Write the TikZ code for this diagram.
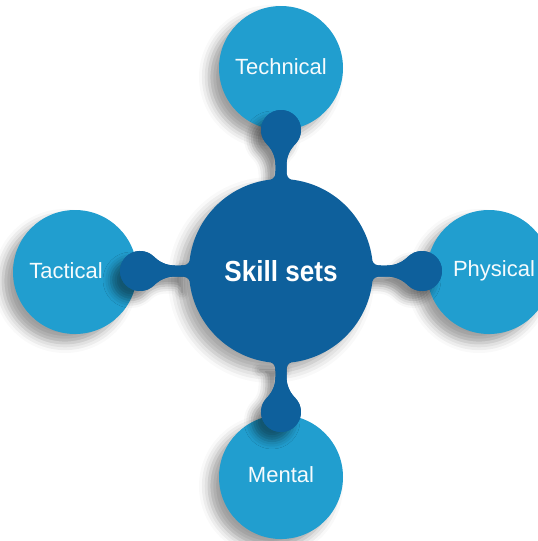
\documentclass[tikz,border=0pt]{standalone}
\usepackage{fontspec}
\setmainfont{Liberation Sans}
\newfontfamily\skillfont{Liberation Sans}[FakeStretch=0.9]
\usetikzlibrary{shadows.blur}
\definecolor{ltblue}{RGB}{33,158,207}
\definecolor{dkblue}{RGB}{14,96,156}
\tikzset{
  outer/.style={circle,fill=ltblue,minimum size=124pt,inner sep=0pt,
    blur shadow={shadow xshift=-10pt,shadow yshift=-9pt,shadow blur radius=10pt,shadow opacity=38}},
  hub/.style={circle,fill=dkblue,minimum size=184pt,inner sep=0pt,
    blur shadow={shadow xshift=-10pt,shadow yshift=-9pt,shadow blur radius=11pt,shadow opacity=35}},
  lbl/.style={text=white!96!ltblue,font=\fontsize{22}{25}\selectfont},
  knobshade/.style={blur shadow={shadow xshift=-9pt,shadow yshift=-9pt,shadow blur radius=8pt,shadow opacity=45}},
  knobplain/.style={},
  knob/.pic={
    \path[fill=dkblue,#1]
      (90,12) .. controls (93,6) and (95,5.5) .. (100,5.5) -- (106,5.5)
      .. controls (112,5.5) and (120,7.3) .. (127,14.3)
      arc[start angle=134.4,end angle=-134.4,radius=20]
      .. controls (120,-7.3) and (112,-5.5) .. (106,-5.5) -- (100,-5.5)
      .. controls (95,-5.5) and (93,-6) .. (90,-12) -- cycle;
  }
}
\begin{document}
\begin{tikzpicture}[x=1pt,y=-1pt]
\useasboundingbox (0,0) rectangle (538,541);
\clip (0,0) rectangle (538,541);
\node[outer] (tech) at (281,68) {};
\node[outer] (tact) at (75,272) {};
\node[outer] (phys) at (489,272) {};
\node[outer] (ment) at (281,477) {};
\coordinate (c) at (281,271);
\foreach \a in {90,180,0,270}
  \path (c) pic[rotate=\a] {knob=knobshade};
\node[hub] (hub) at (c) {};
\foreach \a in {90,180,0,270}
  \path (hub.center) pic[rotate=\a] {knob=knobplain};
\node[lbl] (ttech) at (281,67) {Technical};
\node[lbl] (ttact) at (66,271) {Tactical};
\node[lbl] (tphys) at (494,271) {Physical};
\node[lbl] (tment) at (281,475) {Mental};
\node[text=white,font=\skillfont\bfseries\fontsize{29}{32}\selectfont] (tskill) at (hub.center) {Skill sets};
\end{tikzpicture}
\end{document}
